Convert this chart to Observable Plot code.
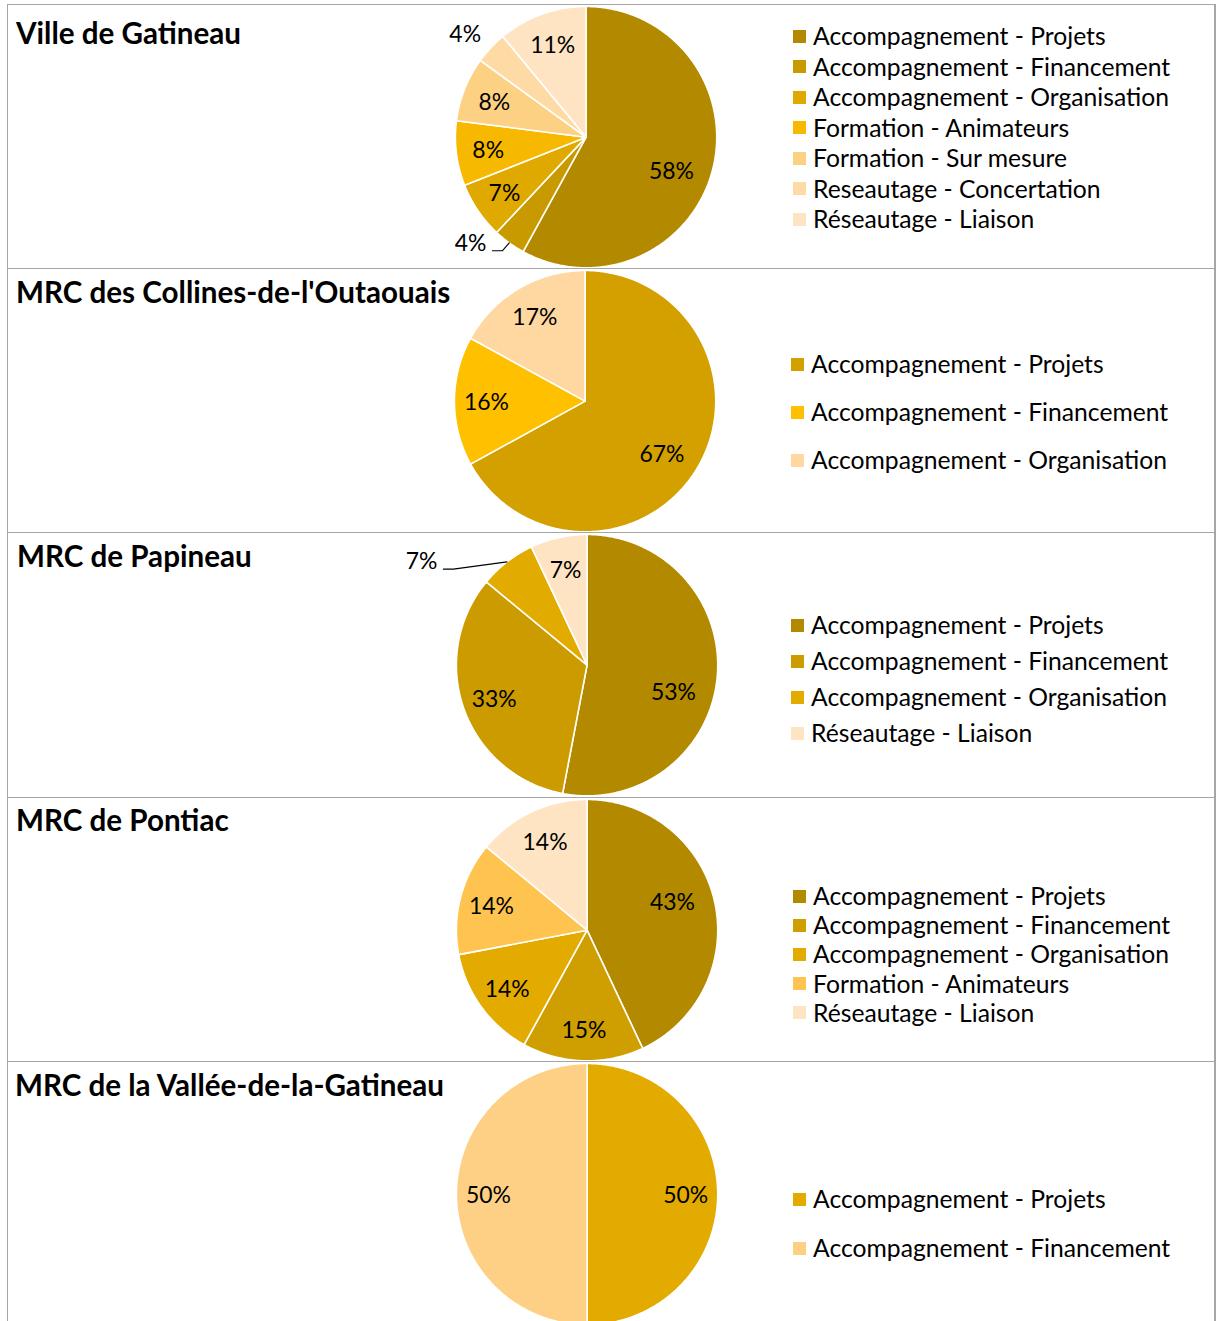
<!DOCTYPE html>
<html>
<head>
<meta charset="utf-8">
<script src="https://cdn.jsdelivr.net/npm/d3@7"></script>
<script src="https://cdn.jsdelivr.net/npm/@observablehq/plot@0.6"></script>
<style>
  html, body { margin: 0; padding: 0; background: #fff; }
  body { width: 1219px; height: 1321px; position: relative; overflow: hidden; font-family: Lato, "Open Sans", sans-serif; color: #000; }
  .panel { position: absolute; left: 7px; width: 1209px; border-left: 1.5px solid #a6a6a6; border-right: 2px solid #a6a6a6; border-top: 1.5px solid #a6a6a6; overflow: hidden; box-sizing: border-box; }
  .panel svg { position: absolute; left: 0; top: 0; }
  .title { position: absolute; font-weight: 700; font-size: 29.6px; line-height: 29px; white-space: nowrap; }
  .legend-row { position: absolute; display: flex; align-items: center; white-space: nowrap; font-size: 24.7px; line-height: 24px; }
  .swatch { width: 13px; height: 13px; margin-right: 7px; flex: none; }
</style>
</head>
<body>
<script>
// ---------- DATA ----------
const panelTitles = [
  "Ville de Gatineau",
  "MRC des Collines-de-l'Outaouais",
  "MRC de Papineau",
  "MRC de Pontiac",
  "MRC de la Vallée-de-la-Gatineau"
];

const gatineauCategories = ["Accompagnement - Projets", "Accompagnement - Financement", "Accompagnement - Organisation", "Formation - Animateurs", "Formation - Sur mesure", "Reseautage - Concertation", "Réseautage - Liaison"];
const gatineauValues = [58, 4, 7, 8, 8, 4, 11];
const gatineauColors = ["#b38900", "#c89a00", "#e0a900", "#f7b900", "#fdd184", "#fedaa5", "#fee4c2"];

const collinesCategories = ["Accompagnement - Projets", "Accompagnement - Financement", "Accompagnement - Organisation"];
const collinesValues = [67, 16, 17];
const collinesColors = ["#d3a000", "#ffc000", "#fed8a0"];

const papineauCategories = ["Accompagnement - Projets", "Accompagnement - Financement", "Accompagnement - Organisation", "Réseautage - Liaison"];
const papineauValues = [53, 33, 7, 7];
const papineauColors = ["#b38900", "#cc9b00", "#e2ab00", "#fee4c2"];

const pontiacCategories = ["Accompagnement - Projets", "Accompagnement - Financement", "Accompagnement - Organisation", "Formation - Animateurs", "Réseautage - Liaison"];
const pontiacValues = [43, 15, 14, 14, 14];
const pontiacColors = ["#b38900", "#cf9e00", "#e3ab00", "#fec44f", "#fee4c2"];

const valleeCategories = ["Accompagnement - Projets", "Accompagnement - Financement"];
const valleeValues = [50, 50];
const valleeColors = ["#e3ab00", "#fdd085"];

const panels = [
  {title: panelTitles[0], categories: gatineauCategories, values: gatineauValues, colors: gatineauColors},
  {title: panelTitles[1], categories: collinesCategories, values: collinesValues, colors: collinesColors},
  {title: panelTitles[2], categories: papineauCategories, values: papineauValues, colors: papineauColors},
  {title: panelTitles[3], categories: pontiacCategories, values: pontiacValues, colors: pontiacColors},
  {title: panelTitles[4], categories: valleeCategories, values: valleeValues, colors: valleeColors}
];

// ---------- LAYOUT (styles / placement) ----------
const panelTops = [4, 268, 532, 797, 1061];
const panelHeight = 264.5;
const W = 1209;
const R = 131;                 // pie radius in px
const layout = [
  {cx: 579, cy: 132, titleLeft: 8, titleY: 27, legendLeft: 785, legendY: 31, legendStep: 30.5},
  {cx: 578, cy: 132, titleLeft: 8, titleY: 22, legendLeft: 783, legendY: 95, legendStep: 48},
  {cx: 580, cy: 132, titleLeft: 9, titleY: 22, legendLeft: 783, legendY: 92, legendStep: 36},
  {cx: 580, cy: 132, titleLeft: 8, titleY: 21, legendLeft: 785, legendY: 98, legendStep: 29.2},
  {cx: 580, cy: 132, titleLeft: 7, titleY: 22, legendLeft: 785, legendY: 137, legendStep: 49}
];
const insideLabelRadius = 0.755;
// label placement overrides (angles in degrees clockwise from 12 o'clock, radius in pie radii)
const labelOverrides = [
  {panel: 0, slice: 0, angle: 111, r: 0.70},
  {panel: 0, slice: 5, angle: 310.7, r: 1.22},
  {panel: 0, slice: 1, leader: {angle: 216.4, r: 1.08}},
  {panel: 1, slice: 0, angle: 124, r: 0.71},
  {panel: 2, slice: 0, angle: 106.6, r: 0.69},
  {panel: 2, slice: 2, leader: {angle: 305.7, r: 1.26}},
  {panel: 3, slice: 0, angle: 71.2, r: 0.69}
];
const leaderTail = 10;         // px, horizontal part of leader line

const rad = d => d * Math.PI / 180;

panels.forEach((p, pi) => {
  const L = layout[pi];
  const div = document.createElement("div");
  div.className = "panel";
  div.style.top = panelTops[pi] + "px";
  div.style.height = (pi < 4 ? panelHeight : 1321 - panelTops[pi] + 10) + "px";
  document.body.appendChild(div);

  const H = 264;
  const total = d3.sum(p.values);
  const pie = d3.pie().sort(null).value(d => d)(p.values);

  const slicePts = [];
  const labels = [];
  const leaders = [];
  const leaderLabels = [];
  pie.forEach((s, i) => {
    const cat = p.categories[i];
    const n = Math.max(2, Math.ceil((s.endAngle - s.startAngle) / 0.01));
    slicePts.push({x: 0, y: 0, category: cat});
    for (let k = 0; k <= n; k++) {
      const a = s.startAngle + (s.endAngle - s.startAngle) * k / n;
      slicePts.push({x: Math.sin(a), y: Math.cos(a), category: cat});
    }
    const mid = (s.startAngle + s.endAngle) / 2;
    const text = Math.round(p.values[i] / total * 100) + "%";
    const ov = labelOverrides.find(o => o.panel === pi && o.slice === i);
    if (ov && ov.leader) {
      const ea = rad(ov.leader.angle), er = ov.leader.r;
      const ex = er * Math.sin(ea), ey = er * Math.cos(ea);
      const sx = ex - leaderTail / R;
      leaders.push({x: sx, y: ey, id: i}, {x: ex, y: ey, id: i}, {x: Math.sin(mid), y: Math.cos(mid), id: i});
      leaderLabels.push({x: sx, y: ey, text});
    } else if (ov) {
      const a = rad(ov.angle);
      labels.push({x: ov.r * Math.sin(a), y: ov.r * Math.cos(a), text});
    } else {
      labels.push({x: insideLabelRadius * Math.sin(mid), y: insideLabelRadius * Math.cos(mid), text});
    }
  });

  const chart = Plot.plot({
    width: W, height: H, margin: 0,
    x: {domain: [-L.cx / R, (W - L.cx) / R], axis: null},
    y: {domain: [-(H - L.cy) / R, L.cy / R], axis: null},
    color: {domain: p.categories, range: p.colors},
    style: {fontFamily: "Lato, 'Open Sans', sans-serif", background: "transparent", overflow: "visible"},
    marks: [
      Plot.line(slicePts, {x: "x", y: "y", z: "category", fill: "category", stroke: "white", strokeWidth: 1.6, curve: "linear-closed"}),
      Plot.line(leaders, {x: "x", y: "y", z: "id", stroke: "#000", strokeWidth: 1.1}),
      Plot.text(labels, {x: "x", y: "y", text: "text", fontSize: 23, fill: "#000", dy: 1.5}),
      Plot.text(leaderLabels, {x: "x", y: "y", text: "text", fontSize: 23, fill: "#000", textAnchor: "end", dx: -6, dy: -7})
    ]
  });
  div.appendChild(chart);

  const t = document.createElement("div");
  t.className = "title";
  t.textContent = p.title;
  t.style.left = L.titleLeft + "px";
  t.style.top = (L.titleY - 14.5) + "px";
  div.appendChild(t);

  p.categories.forEach((c, i) => {
    const row = document.createElement("div");
    row.className = "legend-row";
    row.style.left = L.legendLeft + "px";
    row.style.top = (L.legendY + i * L.legendStep - 12) + "px";
    const sw = document.createElement("span");
    sw.className = "swatch";
    sw.style.background = p.colors[i];
    const tx = document.createElement("span");
    tx.textContent = c;
    row.appendChild(sw);
    row.appendChild(tx);
    div.appendChild(row);
  });
});
</script>
</body>
</html>
